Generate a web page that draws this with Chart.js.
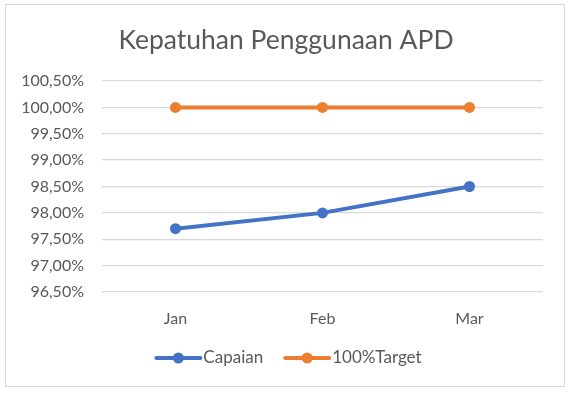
<!DOCTYPE html>
<html>
<head>
<meta charset="utf-8">
<script src="https://cdn.jsdelivr.net/npm/chart.js@4"></script>
<style>
  body { margin: 0; background: #fff; }
  #wrap { position: relative; width: 571px; height: 394px; }
  #frame { position: absolute; left: 5px; top: 4px; width: 560px; height: 383px; border: 1px solid #d9d9d9; box-sizing: border-box; }
  canvas { position: absolute; left: 0; top: 0; }
</style>
</head>
<body>
<div id="wrap">
  <div id="frame"></div>
  <canvas id="chart" width="571" height="394"></canvas>
</div>
<script>
const months = ['Jan', 'Feb', 'Mar'];
const capaian = [97.7, 98.0, 98.5];
const target = [100, 100, 100];
const seriesNames = ['Capaian', '100%Target'];
const chartTitle = 'Kepatuhan Penggunaan APD';

const fontFamily = 'Lato, "Open Sans", sans-serif';
const textColor = '#595959';

function formatPercent(v) {
    return v.toFixed(2).replace('.', ',') + '%';
}

// title and legend drawn by hand: title centred on the frame, legend marker is line + dot
const titleAndLegend = {
    id: 'titleAndLegend',
    afterDraw(chart) {
        const ctx = chart.ctx;
        ctx.save();
        ctx.fillStyle = textColor;
        ctx.textAlign = 'center';
        ctx.textBaseline = 'middle';
        ctx.font = '26.5px ' + fontFamily;
        ctx.fillText(chartTitle, 286, 40);

        const y = 358;
        ctx.font = '17px ' + fontFamily;
        const items = chart.data.datasets.map(ds => ({
            label: ds.label,
            color: ds.borderColor,
            w: 44 + 3 + ctx.measureText(ds.label).width
        }));
        const gap = 22;
        const total = items.reduce((s, it) => s + it.w, 0) + gap * (items.length - 1);
        let x = 289 - total / 2;
        items.forEach(it => {
            ctx.strokeStyle = it.color;
            ctx.lineWidth = 4;
            ctx.lineCap = 'round';
            ctx.beginPath();
            ctx.moveTo(x, y);
            ctx.lineTo(x + 44, y);
            ctx.stroke();
            ctx.fillStyle = it.color;
            ctx.beginPath();
            ctx.arc(x + 22, y, 5.5, 0, Math.PI * 2);
            ctx.fill();
            ctx.fillStyle = textColor;
            ctx.textAlign = 'left';
            ctx.fillText(it.label, x + 47, y);
            x += it.w + gap;
        });
        ctx.restore();
    }
};

const ctx = document.getElementById('chart').getContext('2d');
new Chart(ctx, {
    type: 'line',
    data: {
        labels: months,
        datasets: [{
            label: seriesNames[0],
            data: capaian,
            borderColor: '#4472C4',
            backgroundColor: '#4472C4',
            borderWidth: 4,
            pointRadius: 5.5,
            pointBorderWidth: 0,
            fill: false,
            tension: 0
        }, {
            label: seriesNames[1],
            data: target,
            borderColor: '#ED7D31',
            backgroundColor: '#ED7D31',
            borderWidth: 4,
            pointRadius: 5.5,
            pointBorderWidth: 0,
            fill: false,
            tension: 0
        }]
    },
    options: {
        responsive: false,
        animation: false,
        layout: { padding: { left: 5, right: 28, top: 81, bottom: 52 } },
        plugins: {
            legend: { display: false },
            tooltip: { enabled: false },
            title: { display: false }
        },
        scales: {
            x: {
                offset: true,
                grid: { display: false, drawTicks: false },
                border: { display: false },
                ticks: {
                    color: textColor,
                    font: { family: fontFamily, size: 16 },
                    padding: 17
                },
                afterFit(scale) { scale.height = 50; }
            },
            y: {
                min: 96.5,
                max: 100.5,
                grid: { color: '#d9d9d9', lineWidth: 1.3, drawTicks: false },
                border: { display: false },
                ticks: {
                    stepSize: 0.5,
                    color: textColor,
                    font: { family: fontFamily, size: 16 },
                    padding: 18,
                    callback: v => formatPercent(v)
                },
                afterFit(scale) { scale.width = 97; }
            }
        }
    },
    plugins: [titleAndLegend]
});
</script>
</body>
</html>
